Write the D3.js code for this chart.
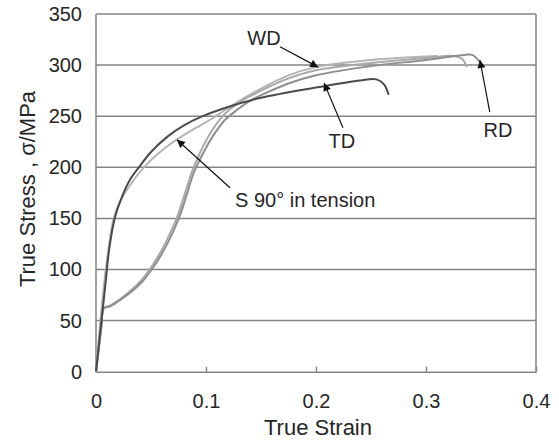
<!DOCTYPE html>
<html><head><meta charset="utf-8">
<script src="https://cdn.jsdelivr.net/npm/d3@7"></script>
<style>body{margin:0;background:#fff}svg{display:block}text{font-family:"Liberation Sans",Arial,sans-serif;fill:#262626}</style>
</head><body><svg id="c" width="559" height="441"></svg>
<script>
const xTicks = [0, 0.1, 0.2, 0.3, 0.4];
const yTicks = [0, 50, 100, 150, 200, 250, 300, 350];
const tdData = [[0,0],[0.003,30],[0.006,60],[0.009,90],[0.012,120],[0.017,150],[0.024,172],[0.031,188],[0.039,200],[0.05,215],[0.065,230],[0.08,241],[0.097,250],[0.12,259],[0.15,268],[0.2,278],[0.24,285],[0.255,286],[0.262,281],[0.266,271]];
const s90Data = [[0,0],[0.004,50],[0.008,92],[0.012,125],[0.016,150],[0.022,167],[0.03,181],[0.042,198],[0.055,212],[0.073,227],[0.09,238],[0.106,248],[0.12,258],[0.135,268],[0.15,277],[0.175,290],[0.2,298],[0.25,305],[0.29,308],[0.31,309]];
const wdData = [[0,0],[0.005,45],[0.007,62],[0.013,65],[0.022,71],[0.031,79],[0.04,88],[0.048,99],[0.056,112],[0.065,130],[0.074,152],[0.081,175],[0.087,195],[0.094,213],[0.102,230],[0.112,246],[0.122,257],[0.134,266],[0.15,275],[0.175,287],[0.2,295],[0.25,302],[0.3,307],[0.325,309],[0.333,306],[0.337,298]];
const rdData = [[0,0],[0.005,45],[0.007,62],[0.013,64],[0.023,71],[0.033,79],[0.042,88],[0.05,99],[0.058,112],[0.067,130],[0.076,152],[0.083,175],[0.089,195],[0.097,213],[0.106,230],[0.117,246],[0.128,256],[0.14,265],[0.155,273],[0.175,282],[0.2,290],[0.25,299],[0.3,305],[0.335,310],[0.342,310],[0.349,303]];
const series = [
  {name:"S90", data:s90Data, color:"#b4b4b4"},
  {name:"WD", data:wdData, color:"#a9a9a9"},
  {name:"RD", data:rdData, color:"#8e8e8e"},
  {name:"TD", data:tdData, color:"#4a4a4a"}
];
// annotations: label, text position (data units), arrow tail and tip (data units)
const annotations = [
  {label:"WD", tx:0.1527, ty:320, anchor:"middle", from:[0.1673,318], to:[0.202,298]},
  {label:"TD", tx:0.2236, ty:218.5, anchor:"middle", from:[0.2245,238.6], to:[0.2073,282.6]},
  {label:"RD", tx:0.3655, ty:229.8, anchor:"middle", from:[0.358,254], to:[0.349,305]},
  {label:"S 90° in tension", tx:0.1264, ty:161, anchor:"start", from:[0.1218,180], to:[0.0736,227]}
];

const svg = d3.select("#c");
const m = {l:96, r:536, t:14, b:371.7};
const x = d3.scaleLinear().domain([0,0.4]).range([m.l, m.r]);
const y = d3.scaleLinear().domain([0,350]).range([m.b, m.t]);
const gridC = "#858585";

svg.append("defs").append("marker").attr("id","ah").attr("viewBox","0 0 10 10")
  .attr("refX",10).attr("refY",5).attr("markerWidth",10).attr("markerHeight",8)
  .attr("markerUnits","userSpaceOnUse").attr("orient","auto")
  .append("path").attr("d","M0,0L10,5L0,10z").attr("fill","#111");

// gridlines
svg.append("g").selectAll("line").data(yTicks.filter(d=>d>0)).join("line")
  .attr("x1",m.l).attr("x2",m.r).attr("y1",d=>y(d)).attr("y2",d=>y(d))
  .attr("stroke",gridC).attr("stroke-width",1.5);
// frame
svg.append("line").attr("x1",m.r).attr("x2",m.r).attr("y1",m.t).attr("y2",m.b).attr("stroke",gridC).attr("stroke-width",1.5);
svg.append("line").attr("x1",m.l).attr("x2",m.l).attr("y1",m.t).attr("y2",m.b).attr("stroke",gridC).attr("stroke-width",1.5);

// x axis
const xa = svg.append("g").attr("transform",`translate(0,${m.b})`)
  .call(d3.axisBottom(x).tickValues(xTicks).tickSizeInner(-5).tickSizeOuter(0).tickPadding(22).tickFormat(d=>d===0?"0":d3.format(".1f")(d)));
xa.select(".domain").attr("stroke",gridC).attr("stroke-width",1.5);
xa.selectAll(".tick line").attr("stroke",gridC).attr("stroke-width",1.5);
xa.selectAll(".tick text").attr("font-size",20).attr("fill","#262626").attr("font-family","Liberation Sans, Arial, sans-serif");

// y axis
const ya = svg.append("g").attr("transform",`translate(${m.l},0)`)
  .call(d3.axisLeft(y).tickValues(yTicks).tickSize(0).tickPadding(14));
ya.select(".domain").remove();
ya.selectAll(".tick text").attr("font-size",20).attr("fill","#262626").attr("font-family","Liberation Sans, Arial, sans-serif");

// curves
const lineC = d3.line().x(d=>x(d[0])).y(d=>y(d[1])).curve(d3.curveCatmullRom.alpha(0.5));
svg.append("g").selectAll("path").data(series).join("path")
  .attr("d",d=>lineC(d.data)).attr("fill","none").attr("stroke",d=>d.color)
  .attr("stroke-width",2).attr("stroke-linejoin","round");

// annotations
const ag = svg.append("g");
ag.selectAll("line").data(annotations).join("line")
  .attr("x1",d=>x(d.from[0])).attr("y1",d=>y(d.from[1]))
  .attr("x2",d=>x(d.to[0])).attr("y2",d=>y(d.to[1]))
  .attr("stroke","#111").attr("stroke-width",1.2).attr("marker-end","url(#ah)");
ag.selectAll("text").data(annotations).join("text")
  .attr("x",d=>x(d.tx)).attr("y",d=>y(d.ty)).attr("text-anchor",d=>d.anchor)
  .attr("font-size",20).text(d=>d.label);

// axis titles
svg.append("text").attr("x",(m.l+m.r)/2+2).attr("y",435).attr("text-anchor","middle").attr("font-size",22).text("True Strain");
svg.append("text").attr("transform","translate(35,189) rotate(-90)").attr("text-anchor","middle").attr("font-size",22).text("True Stress , σ/MPa");
</script></body></html>
